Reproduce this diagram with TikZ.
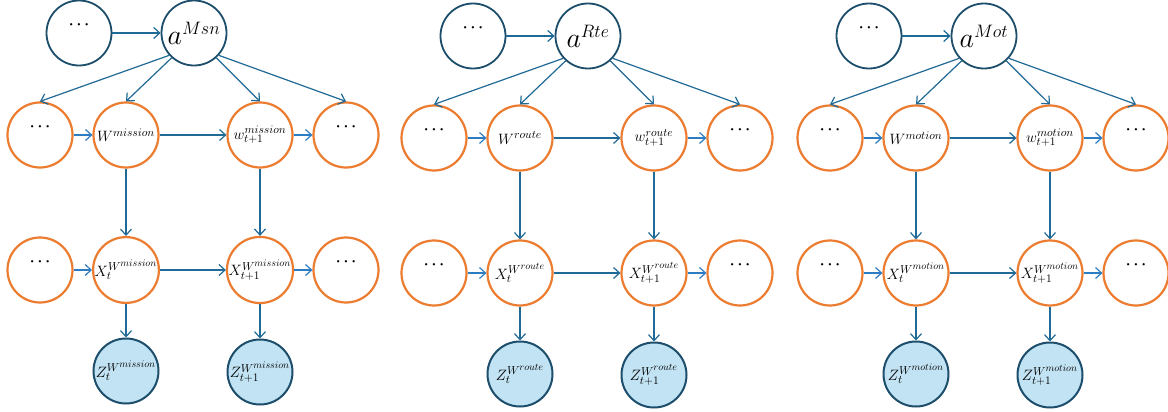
\RequirePackage{fix-cm}
\documentclass[tikz,border=0pt]{standalone}
\usetikzlibrary{arrows.meta}
\DeclareMathSizes{15}{15}{11.5}{10}
\definecolor{navy}{HTML}{1D4F6C}
\definecolor{orng}{HTML}{EC7C30}
\definecolor{skyfill}{HTML}{C2E3F3}
\definecolor{edgeblue}{HTML}{1F6A96}
\definecolor{linkblue}{HTML}{2C7CC4}

\tikzset{
  base/.style={circle, minimum size=65pt, inner sep=0pt,
               font=\fontsize{15}{18}\selectfont},
  hidden/.style={base, draw=navy, line width=1.8pt},
  statenode/.style={base, draw=orng, line width=2.2pt},
  obsnode/.style={base, draw=navy, fill=skyfill, line width=2pt},
  edge/.style={draw=edgeblue, line width=1.2pt,
               -{Straight Barb[length=6pt,width=11pt]}},
  link/.style={edge, draw=linkblue},
}

% dots sitting in the upper half of a node
\newcommand{\dotsmark}{\raisebox{16pt}{\fontsize{15}{15}\selectfont\boldmath$\cdots$}}
% action node label: large a with a smaller superscript
\newcommand{\actlabel}[1]{{\fontsize{28}{30}\selectfont
  $a^{\mbox{\fontsize{18}{18}\selectfont$#1$}}$}}

% one dynamic network: #1 name prefix, #2 x shift, #3 y shift,
% #4 action tag, #5 variable tag
\newcommand{\dbnpanel}[5]{%
\begin{scope}[shift={(#2,#3)}]
  \node[hidden]    (#1d)  at (79,33)   {\dotsmark};
  \node[hidden]    (#1a)  at (194,33)  {\actlabel{#4}};
  \node[statenode] (#1wl) at (40,135)  {\dotsmark};
  \node[statenode] (#1w)  at (126,135) {$W^{#5}$};
  \node[statenode] (#1wn) at (260,135) {$w_{t+1}^{#5}$};
  \node[statenode] (#1wr) at (346,135) {\dotsmark};
  \node[statenode] (#1xl) at (40,270)  {\dotsmark};
  \node[statenode] (#1x)  at (126,270) {$X_t^{W^{#5}}$};
  \node[statenode] (#1xn) at (260,270) {$X_{t+1}^{W^{#5}}$};
  \node[statenode] (#1xr) at (346,270) {\dotsmark};
  \node[obsnode]   (#1z)  at (126,371) {$Z_t^{W^{#5}}$};
  \node[obsnode]   (#1zn) at (260,372) {$Z_{t+1}^{W^{#5}}$};
  % action influences
  \draw[edge] (#1d) -- (#1a);
  \draw[edge] (#1a.-138) -- (#1wl.north);
  \draw[edge] (#1a.-132) -- (#1w.north);
  \draw[edge] (#1a.-48)  -- (#1wn.north);
  \draw[edge] (#1a.-42)  -- (#1wr.north);
  % state chain
  \draw[link] (#1wl) -- (#1w);
  \draw[edge] (#1w)  -- (#1wn);
  \draw[link] (#1wn) -- (#1wr);
  \draw[link] (#1xl) -- (#1x);
  \draw[edge] (#1x)  -- (#1xn);
  \draw[link] (#1xn) -- (#1xr);
  % emissions
  \draw[edge] (#1w)  -- (#1x);
  \draw[edge] (#1wn) -- (#1xn);
  \draw[edge] (#1x)  -- (#1z);
  \draw[edge] (#1xn) -- (#1zn);
\end{scope}}

\begin{document}
\begin{tikzpicture}[x=1pt, y=-1pt]
  \path[use as bounding box, fill=white] (0,0) rectangle (1168,412);
  \dbnpanel{p}{0}{0}{Msn}{mission}
  \dbnpanel{q}{394}{3}{Rte}{route}
  \dbnpanel{r}{790}{3}{Mot}{motion}
\end{tikzpicture}
\end{document}
